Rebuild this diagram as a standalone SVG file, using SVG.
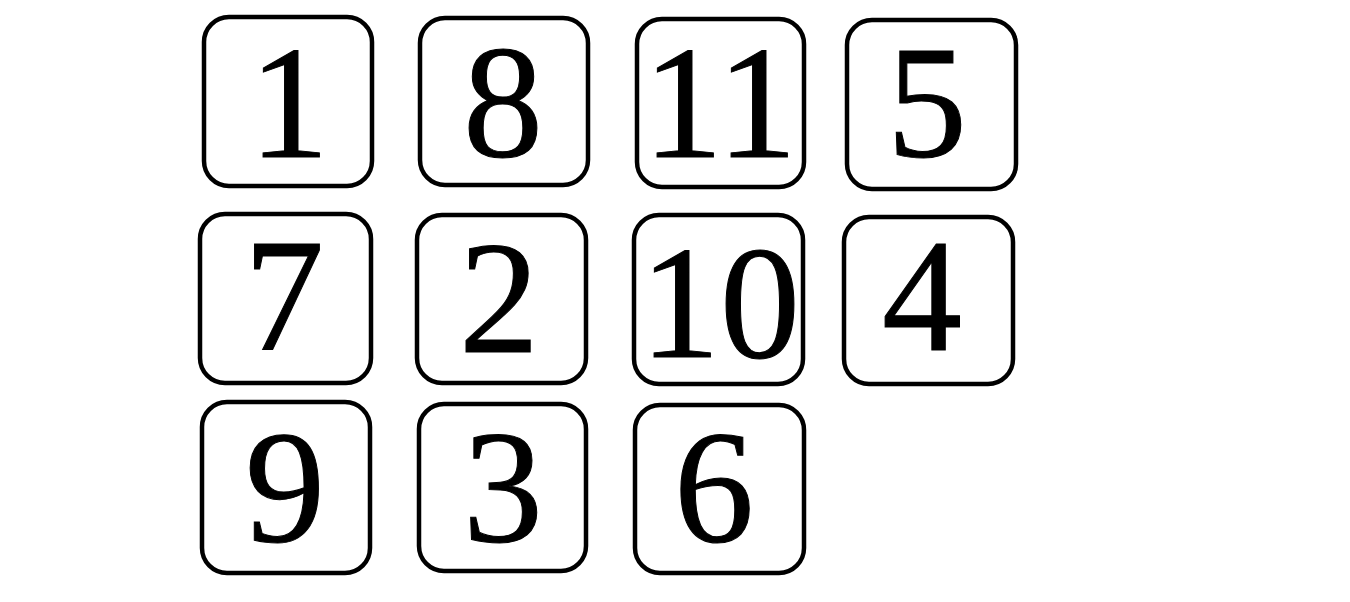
<svg xmlns="http://www.w3.org/2000/svg" width="1350" height="602" viewBox="0 0 1350 602">
<style>
.box{fill:#fff;stroke:#000;stroke-width:4.5}
.num{font-family:"Liberation Serif","Times New Roman",serif;font-size:160px;fill:#000;stroke:#000;stroke-width:1;text-anchor:middle}
</style>
<rect width="1350" height="602" fill="#fff"/>
<g id="connectors"></g>
<g id="n1"><rect class="box" x="204" y="17" width="168" height="169" rx="25"/><text class="num" x="289" y="157">1</text></g>
<g id="n8"><rect class="box" x="420" y="18" width="168" height="167" rx="25"/><text class="num" x="503" y="156">8</text></g>
<g id="n11"><rect class="box" x="637" y="19" width="167" height="168" rx="25"/><text class="num" x="720" y="157">11</text></g>
<g id="n5"><rect class="box" x="847" y="20" width="169" height="169" rx="25"/><text class="num" x="927" y="156">5</text></g>
<g id="n7"><rect class="box" x="200" y="214" width="171" height="169" rx="25"/><text class="num" x="284" y="350">7</text></g>
<g id="n2"><rect class="box" x="417" y="215" width="169" height="168" rx="25"/><text class="num" x="499" y="352">2</text></g>
<g id="n10"><rect class="box" x="634" y="215" width="169" height="169" rx="25"/><text class="num" x="720" y="357">10</text></g>
<g id="n4"><rect class="box" x="844" y="217" width="169" height="167" rx="25"/><text class="num" x="922" y="350">4</text></g>
<g id="n9"><rect class="box" x="202" y="402" width="168" height="171" rx="25"/><text class="num" x="285" y="541">9</text></g>
<g id="n3"><rect class="box" x="419" y="404" width="167" height="167" rx="25"/><text class="num" x="503" y="541">3</text></g>
<g id="n6"><rect class="box" x="635" y="405" width="169" height="168" rx="25"/><text class="num" x="714" y="541">6</text></g>
</svg>
